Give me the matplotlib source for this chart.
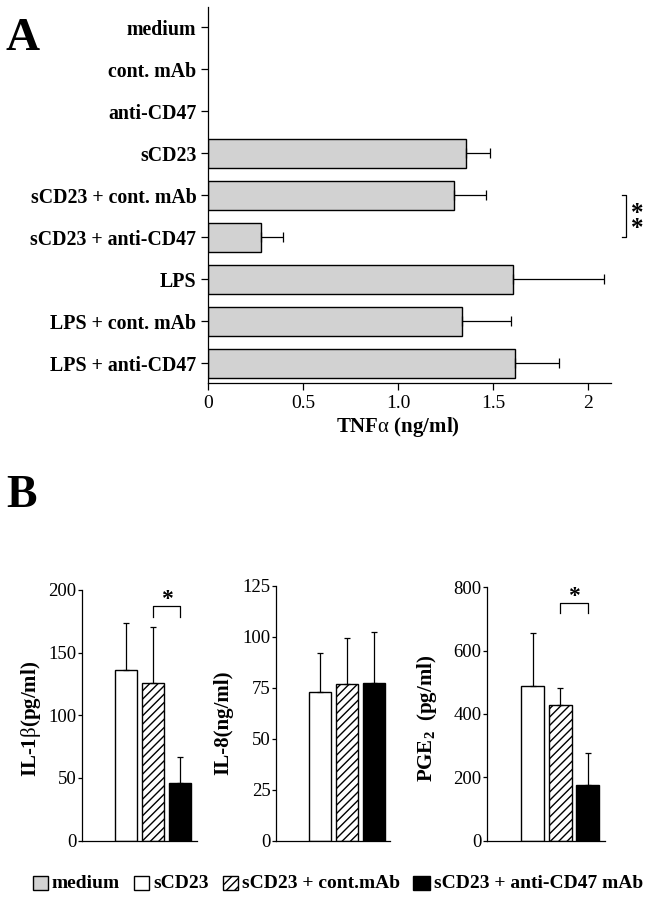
import numpy as np
import matplotlib
matplotlib.use("Agg")
import matplotlib.pyplot as plt
from matplotlib.patches import Rectangle

plt.rcParams['font.family'] = ['Liberation Serif', 'DejaVu Serif']
plt.rcParams['mathtext.fontset'] = 'custom'
plt.rcParams['mathtext.rm'] = 'Liberation Serif'
plt.rcParams['mathtext.bf'] = 'Liberation Serif:bold'
plt.rcParams['mathtext.it'] = 'Liberation Serif:italic'
plt.rcParams['hatch.linewidth'] = 1.0

# ---------------- data ----------------
# Panel A
categories_A = ['medium', 'cont. mAb', 'anti-CD47', 'sCD23', 'sCD23 + cont. mAb',
                'sCD23 + anti-CD47', 'LPS', 'LPS + cont. mAb', 'LPS + anti-CD47']
tnf_mean = [0, 0, 0, 1.356, 1.295, 0.275, 1.603, 1.337, 1.612]
tnf_err = [0, 0, 0, 0.129, 0.167, 0.117, 0.481, 0.256, 0.235]
xticks_A = [0, 0.5, 1.0, 1.5, 2]
xticklabels_A = ['0', '0.5', '1.0', '1.5', '2']

# Panel B
conditions_B = ['medium', 'sCD23', 'sCD23 + cont.mAb', 'sCD23 + anti-CD47 mAb']
il1b_mean = [0, 136.0, 125.9, 45.9]
il1b_err = [0, 37.3, 44.8, 20.8]
il8_mean = [0, 73.0, 76.9, 77.2]
il8_err = [0, 19.3, 22.4, 25.2]
pge2_mean = [0, 489.5, 428.4, 175.8]
pge2_err = [0, 165.2, 52.6, 100.0]
yticks_il1b = [0, 50, 100, 150, 200]
yticks_il8 = [0, 25, 50, 75, 100, 125]
yticks_pge2 = [0, 200, 400, 600, 800]

# ---------------- styles ----------------
W, H = 647, 900
GRAY = '#d2d2d2'
face = {'medium': GRAY, 'sCD23': 'white', 'sCD23 + cont.mAb': 'white',
        'sCD23 + anti-CD47 mAb': 'black'}
hatch = {'medium': None, 'sCD23': None, 'sCD23 + cont.mAb': '////',
         'sCD23 + anti-CD47 mAb': None}

fig = plt.figure(figsize=(W / 100, H / 100), dpi=100)


def rect(l, t, r, b):
    return [l / W, 1 - b / H, (r - l) / W, (b - t) / H]


def fx(x):
    return x / W


def fy(y):
    return 1 - y / H


# ---------------- Panel A ----------------
axA = fig.add_axes(rect(208.3, 6.7, 610.7, 383))
yA = np.arange(len(categories_A))
mA = np.array(tnf_mean, dtype=float)
eA = np.array(tnf_err, dtype=float)
show = mA > 0
axA.barh(yA[show], mA[show], height=0.7, color=GRAY, edgecolor='black', linewidth=1.0)
axA.errorbar(mA[show], yA[show], xerr=[np.zeros(show.sum()), eA[show]], fmt='none',
             ecolor='black', elinewidth=0.9, capsize=3.6, capthick=0.9)
axA.set_xlim(0, 2.118)
axA.set_ylim(len(categories_A) - 0.53, -0.49)
axA.set_yticks(yA)
axA.set_yticklabels(categories_A, fontsize=14.3, fontweight='bold')
axA.set_xticks(xticks_A)
axA.set_xticklabels(xticklabels_A, fontsize=14)
for s in ['top', 'right']:
    axA.spines[s].set_visible(False)
for s in ['left', 'bottom']:
    axA.spines[s].set_linewidth(0.9)
axA.tick_params(axis='y', length=5, width=0.9, pad=3.5)
axA.tick_params(axis='x', length=5, width=0.9, pad=3.5)

# significance bracket A
bx, btick = 2.2, 0.022
axA.plot([bx - btick, bx, bx, bx - btick], [4, 4, 5, 5], color='black', lw=0.9,
         clip_on=False)
axA.text(2.26, 4.62, '*\n*', ha='center', va='center', fontsize=18, linespacing=0.55,
         fontweight='bold', clip_on=False)

fig.text(fx(397.5), fy(427), r'TNF$\mathrm{\alpha}$ (ng/ml)', ha='center', va='center',
         fontsize=15, fontweight='bold')
fig.text(fx(6), fy(50), 'A', ha='left', va='baseline', fontsize=34, fontweight='bold')
fig.text(fx(6), fy(507), 'B', ha='left', va='baseline', fontsize=33, fontweight='bold')

# ---------------- Panel B ----------------
panels = [
    (rect(81.7, 590, 197, 840.5), il1b_mean, il1b_err, yticks_il1b,
     r'IL-1$\mathrm{\beta}$(pg/ml)', (31, 719), (2, 3, 187.2, 8.5)),
    (rect(276, 586, 390.4, 840.5), il8_mean, il8_err, yticks_il8,
     'IL-8(ng/ml)', (223, 723), None),
    (rect(487.3, 587.3, 604.7, 840.5), pge2_mean, pge2_err, yticks_pge2,
     r'PGE$_{\mathbf{2}}$  (pg/ml)', (427, 718), (2, 3, 749.5, 29.5)),
]
xB = np.arange(len(conditions_B))
for r, mean, err, yt, lab, labpos, sig in panels:
    ax = fig.add_axes(r)
    mean = np.array(mean, dtype=float)
    err = np.array(err, dtype=float)
    for i, c in enumerate(conditions_B):
        if mean[i] <= 0:
            continue
        ax.bar(xB[i], mean[i], width=0.83, color=face[c], edgecolor='black',
               linewidth=1.0, hatch=hatch[c])
        ax.errorbar(xB[i], mean[i], yerr=[[0], [err[i]]], fmt='none', ecolor='black',
                    elinewidth=0.9, capsize=2.0, capthick=0.9)
    ax.set_xlim(-0.65, 3.62)
    ax.set_ylim(yt[0], yt[-1])
    ax.set_yticks(yt)
    ax.set_yticklabels([str(v) for v in yt], fontsize=13.5)
    ax.set_xticks([])
    for s in ['top', 'right']:
        ax.spines[s].set_visible(False)
    for s in ['left', 'bottom']:
        ax.spines[s].set_linewidth(0.9)
    ax.tick_params(axis='y', length=3, width=0.9, pad=1)
    fig.text(fx(labpos[0]), fy(labpos[1]), lab, rotation=90, ha='center', va='center',
             fontsize=15, fontweight='bold')
    if sig is not None:
        a, b, yb, drop = sig
        ax.plot([a, a, b, b], [yb - drop, yb, yb, yb - drop], color='black', lw=0.9,
                clip_on=False)
        ax.annotate('*', xy=((a + b) / 2, yb), xytext=(0, 1), textcoords='offset points',
                    ha='center', va='baseline', fontsize=17, fontweight='bold',
                    annotation_clip=False)

# ---------------- legend ----------------
leg_box_x = [33, 134, 223, 413]
leg_box_w = [14.5, 15, 15, 16.5]
leg_text_x = [51.6, 153, 242, 434]
leg_y = 883
for c, bxp, bw, tx in zip(conditions_B, leg_box_x, leg_box_w, leg_text_x):
    p = Rectangle((fx(bxp), fy(leg_y + 7)), bw / W, 14 / H, transform=fig.transFigure,
                  facecolor=face[c], edgecolor='black', linewidth=1.0, hatch=hatch[c])
    fig.add_artist(p)
    fig.text(fx(tx), fy(leg_y), c, ha='left', va='center', fontsize=14,
             fontweight='bold')

fig.savefig('out.png', dpi=100)
